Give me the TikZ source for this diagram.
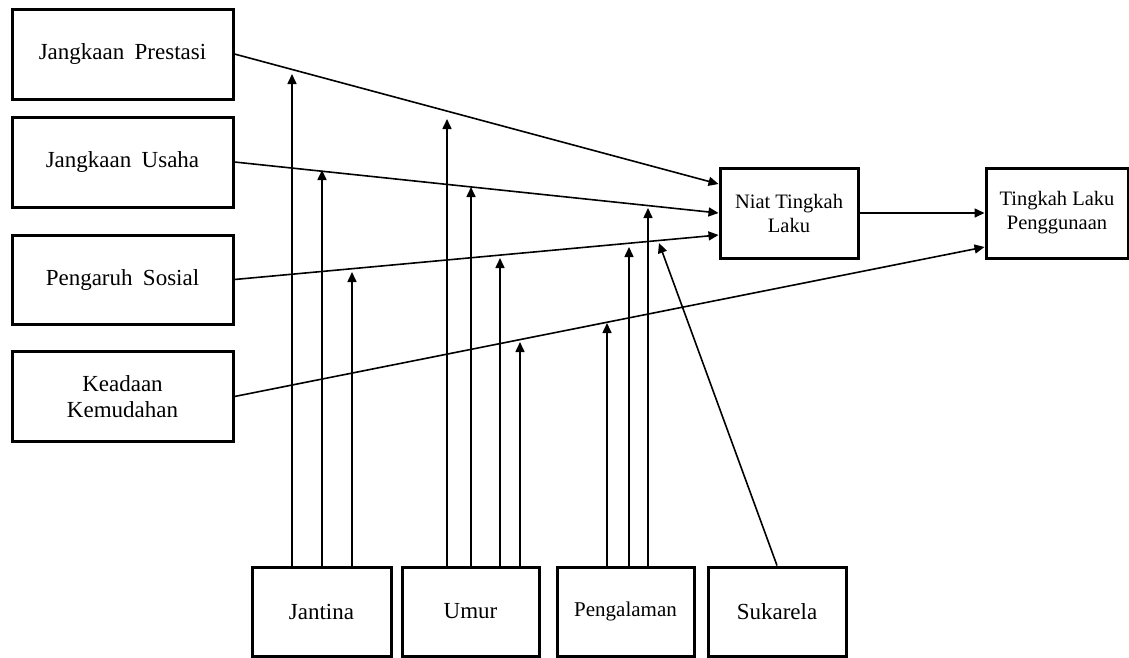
\documentclass[tikz,border=0pt]{standalone}
\usepackage{fontspec}
\setmainfont{Liberation Serif}
\usetikzlibrary{arrows.meta}
\tikzset{
  box/.style={draw=black, line width=3pt, fill=white, align=center, inner sep=2pt},
  lbox/.style={box, minimum width=221pt, minimum height=90pt, font=\fontsize{23}{26.5}\selectfont},
  bbox/.style={box, minimum width=138pt, minimum height=89pt, font=\fontsize{23}{26.5}\selectfont},
  mbox/.style={box, minimum height=90pt, font=\fontsize{20.5}{24}\selectfont},
  arr/.style={line width=1.6pt, -{Triangle[length=10pt,width=9pt]}},
}
\begin{document}
\begin{tikzpicture}[x=1pt,y=-1pt]
\useasboundingbox (0,0) rectangle (1129,657);
% left boxes
\node[lbox] (jp) at (122.5,54) {Jangkaan\hspace{0.45em}Prestasi};
\node[lbox] (ju) at (122.5,162) {Jangkaan\hspace{0.45em}Usaha};
\node[lbox, minimum height=89pt] (ps) at (122.5,279.5) {Pengaruh\hspace{0.45em}Sosial};
\node[lbox] (kk) at (122.5,396.5) {Keadaan\\Kemudahan};
% middle / right
\node[mbox, minimum width=138pt] (niat) at (789,213) {Niat Tingkah\\Laku};
\node[mbox, minimum width=142pt] (tlp) at (1057,213) {Tingkah Laku\\Penggunaan};
% bottom boxes
\node[bbox, minimum width=139pt] (jan) at (321.5,611.5) {Jantina};
\node[bbox, minimum width=137pt] (umur) at (470.5,611.5) {Umur};
\node[bbox, minimum width=137pt, font=\fontsize{21}{24}\selectfont] (peng) at (625.5,611.5) {Pengalaman};
\node[bbox] (suka) at (777,611.5) {Sukarela};
% main connectors
\draw[arr] (jp.east) -- ([yshift=29pt]niat.west);
\draw[arr] (ju.east) -- (niat.west);
\draw[arr] (ps.east) -- ([yshift=-22pt]niat.west);
\draw[arr] (kk.east) -- ([yshift=-34pt]tlp.west);
\draw[arr] (niat.east) -- (tlp.west);
% moderator tips
\coordinate (j1) at (292,74);
\coordinate (j2) at (322,170);
\coordinate (j3) at (352,272);
\coordinate (u1) at (447,119);
\coordinate (u2) at (471,187);
\coordinate (u3) at (500,258);
\coordinate (u4) at (520,342);
\coordinate (p1) at (607,323);
\coordinate (p2) at (629,247);
\coordinate (p3) at (648,208);
\coordinate (s1) at (659,243);
\foreach \c in {j1,j2,j3} \draw[arr] (\c |- jan.north) -- (\c);
\foreach \c in {u1,u2,u3,u4} \draw[arr] (\c |- umur.north) -- (\c);
\foreach \c in {p1,p2,p3} \draw[arr] (\c |- peng.north) -- (\c);
\draw[arr] (suka.north) -- (s1);
\end{tikzpicture}
\end{document}
